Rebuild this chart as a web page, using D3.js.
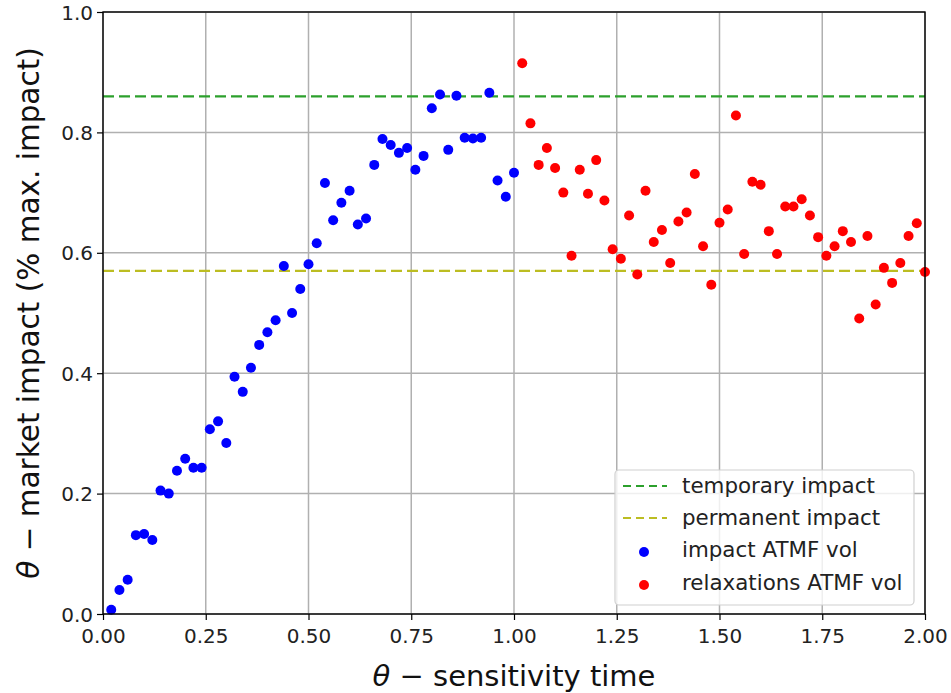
<!DOCTYPE html>
<html><head><meta charset="utf-8">
<script src="https://cdn.jsdelivr.net/npm/d3@7"></script>
<style>body{margin:0;background:#fff;} svg{display:block;font-family:"DejaVu Sans",sans-serif;}</style>
</head><body><svg id="c" width="951" height="693"></svg>
<script>
const impactX = [0.02,0.04,0.06,0.08,0.10,0.12,0.14,0.16,0.18,0.20,0.22,0.24,0.26,0.28,0.30,0.32,0.34,0.36,0.38,0.40,0.42,0.44,0.46,0.48,0.50,0.52,0.54,0.56,0.58,0.60,0.62,0.64,0.66,0.68,0.70,0.72,0.74,0.76,0.78,0.80,0.82,0.84,0.86,0.88,0.90,0.92,0.94,0.96,0.98,1.00];
const impactY = [0.007,0.040,0.057,0.131,0.133,0.123,0.205,0.200,0.238,0.258,0.243,0.243,0.307,0.320,0.284,0.394,0.369,0.409,0.447,0.468,0.488,0.578,0.500,0.540,0.581,0.616,0.716,0.654,0.683,0.703,0.647,0.657,0.746,0.789,0.779,0.766,0.774,0.738,0.761,0.840,0.863,0.771,0.861,0.791,0.790,0.791,0.866,0.720,0.693,0.733];
const relaxX = [1.02,1.04,1.06,1.08,1.10,1.12,1.14,1.16,1.18,1.20,1.22,1.24,1.26,1.28,1.30,1.32,1.34,1.36,1.38,1.40,1.42,1.44,1.46,1.48,1.50,1.52,1.54,1.56,1.58,1.60,1.62,1.64,1.66,1.68,1.70,1.72,1.74,1.76,1.78,1.80,1.82,1.84,1.86,1.88,1.90,1.92,1.94,1.96,1.98,2.00];
const relaxY = [0.915,0.815,0.746,0.774,0.741,0.700,0.595,0.738,0.698,0.754,0.687,0.606,0.590,0.662,0.564,0.703,0.618,0.638,0.583,0.652,0.667,0.731,0.611,0.547,0.650,0.672,0.828,0.598,0.718,0.713,0.636,0.598,0.677,0.677,0.689,0.662,0.626,0.595,0.611,0.636,0.618,0.491,0.628,0.514,0.575,0.550,0.583,0.628,0.649,0.568];
const temporaryImpact = 0.86;
const permanentImpact = 0.57;
const xTicks = [0,0.25,0.5,0.75,1.0,1.25,1.5,1.75,2.0];
const yTicks = [0,0.2,0.4,0.6,0.8,1.0];
const legendLabels = ["temporary impact","permanent impact","impact ATMF vol","relaxations ATMF vol"];

const svg = d3.select("#c");
const L=103,R=925,T=12,B=614;
const x = d3.scaleLinear().domain([0,2]).range([L,R]);
const y = d3.scaleLinear().domain([0,1]).range([B,T]);
const tickFont = 20;

// grid
const g = svg.append("g");
g.selectAll(".gx").data(xTicks).join("line").attr("x1",d=>x(d)).attr("x2",d=>x(d)).attr("y1",T).attr("y2",B).attr("stroke","#b0b0b0").attr("stroke-width",1.5);
g.selectAll(".gy").data(yTicks).join("line").attr("y1",d=>y(d)).attr("y2",d=>y(d)).attr("x1",L).attr("x2",R).attr("stroke","#b0b0b0").attr("stroke-width",1.5);

// reference lines
svg.append("line").attr("x1",L).attr("x2",R).attr("y1",y(temporaryImpact)).attr("y2",y(temporaryImpact)).attr("stroke","#2ca02c").attr("stroke-width",2.2).attr("stroke-dasharray","11,5");
svg.append("line").attr("x1",L).attr("x2",R).attr("y1",y(permanentImpact)).attr("y2",y(permanentImpact)).attr("stroke","#bcbd22").attr("stroke-width",2.2).attr("stroke-dasharray","11,5");

// points
const pts = svg.append("g");
pts.selectAll(".b").data(impactX.map((v,i)=>[v,impactY[i]])).join("circle").attr("cx",d=>x(d[0])).attr("cy",d=>y(d[1])).attr("r",5).attr("fill","#0000ff");
pts.selectAll(".r").data(relaxX.map((v,i)=>[v,relaxY[i]])).join("circle").attr("cx",d=>x(d[0])).attr("cy",d=>y(d[1])).attr("r",5).attr("fill","#ff0000");

// axes
const xa = svg.append("g").attr("transform",`translate(0,${B})`).call(d3.axisBottom(x).tickValues(xTicks).tickFormat(d3.format(".2f")).tickSize(6).tickSizeOuter(0));
const ya = svg.append("g").attr("transform",`translate(${L},0)`).call(d3.axisLeft(y).tickValues(yTicks).tickFormat(d3.format(".1f")).tickSize(6).tickSizeOuter(0));
[xa,ya].forEach(a=>{a.select(".domain").remove();a.selectAll("text").attr("font-size",tickFont).attr("font-family","DejaVu Sans").attr("fill","#222");a.selectAll("line").attr("stroke","#000").attr("stroke-width",1.2);});
xa.selectAll("text").attr("dy","1.0em");
ya.selectAll("text").attr("x",-10).attr("dy","0.35em");
// spines
svg.append("rect").attr("x",L).attr("y",T).attr("width",R-L).attr("height",B-T).attr("fill","none").attr("stroke","#000").attr("stroke-width",1.4);

// axis labels
const xl = svg.append("text").attr("x",(L+R)/2).attr("y",686).attr("text-anchor","middle").attr("font-size",29).attr("fill","#111");
xl.append("tspan").attr("font-style","italic").text("θ");
xl.append("tspan").text(" − sensitivity time");
const yl = svg.append("text").attr("transform",`translate(39,${(T+B)/2}) rotate(-90)`).attr("text-anchor","middle").attr("font-size",29.5).attr("fill","#111");
yl.append("tspan").attr("font-style","italic").text("θ");
yl.append("tspan").text(" − market impact (% max. impact)");

// legend
const lg = svg.append("g");
lg.append("rect").attr("x",615).attr("y",470).attr("width",299).attr("height",135).attr("rx",4).attr("fill","#fff").attr("fill-opacity",0.8).attr("stroke","#d0d0d0").attr("stroke-width",1.2);
const rowY = [486,518,550,583];
const lineCols = ["#2ca02c","#bcbd22"];
lineCols.forEach((c,i)=>{lg.append("line").attr("x1",623).attr("x2",667).attr("y1",rowY[i]).attr("y2",rowY[i]).attr("stroke",c).attr("stroke-width",2.2).attr("stroke-dasharray","8,5");});
lg.append("circle").attr("cx",644).attr("cy",rowY[2]+2).attr("r",5).attr("fill","#0000ff");
lg.append("circle").attr("cx",644).attr("cy",rowY[3]+2).attr("r",5).attr("fill","#ff0000");
lg.selectAll(".lt").data(legendLabels).join("text").attr("x",682).attr("y",(d,i)=>rowY[i]).attr("dy","0.35em").attr("font-size",21.4).attr("fill","#222").text(d=>d);
</script></body></html>
